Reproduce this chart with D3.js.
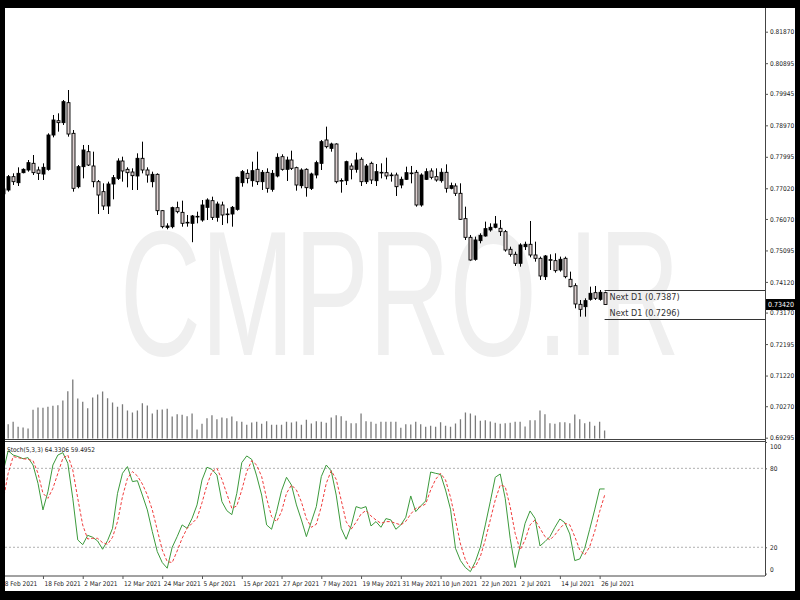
<!DOCTYPE html>
<html><head><meta charset="utf-8">
<script src="https://cdn.jsdelivr.net/npm/d3@7/dist/d3.min.js"></script>
<style>html,body{margin:0;padding:0;background:#000;}svg{display:block;}
.lbl{font-family:"Liberation Sans Narrow","DejaVu Sans Condensed","Liberation Sans",sans-serif;}
</style></head>
<body><svg id="c" width="800" height="600"></svg>
<script>
// ---------- data ----------
const dateLabels = ["8 Feb 2021","18 Feb 2021","2 Mar 2021","12 Mar 2021","24 Mar 2021","5 Apr 2021","15 Apr 2021","27 Apr 2021","7 May 2021","19 May 2021","31 May 2021","10 Jun 2021","22 Jun 2021","2 Jul 2021","14 Jul 2021","26 Jul 2021"];
const dateTickIdx = [0,8,16,24,32,40,48,56,64,72,80,88,96,104,112,120];
const priceTicks = [0.81870,0.80895,0.79945,0.78970,0.77995,0.77020,0.76070,0.75095,0.74120,0.73170,0.72195,0.71220,0.70270,0.69295];
const stochTicks = [100,80,20,0];
const openP = [0.7685,0.76967,0.77380,0.77194,0.77504,0.77587,0.77793,0.77587,0.77462,0.77607,0.78670,0.79114,0.79053,0.79672,0.78722,0.77070,0.77690,0.78154,0.77710,0.77225,0.76916,0.76472,0.77153,0.77328,0.77865,0.77607,0.77524,0.77401,0.77948,0.77587,0.77225,0.77452,0.76327,0.75811,0.75831,0.76420,0.76275,0.75966,0.75935,0.76151,0.76038,0.76430,0.76637,0.76120,0.76502,0.76224,0.76224,0.76368,0.77194,0.77483,0.77256,0.77607,0.77225,0.77514,0.76988,0.77401,0.77999,0.77607,0.77896,0.77659,0.77101,0.77607,0.77019,0.77432,0.77793,0.78516,0.78257,0.78392,0.77260,0.77256,0.77710,0.77607,0.77917,0.77225,0.77793,0.77256,0.77514,0.77504,0.77432,0.77432,0.77122,0.77298,0.77494,0.77515,0.76503,0.77298,0.77556,0.77380,0.77256,0.77515,0.77019,0.77091,0.76864,0.76080,0.75501,0.74820,0.75398,0.75543,0.75729,0.75811,0.75780,0.75677,0.75130,0.74975,0.74696,0.75212,0.75285,0.74954,0.74851,0.74283,0.74810,0.74779,0.74490,0.74851,0.74201,0.74004,0.73426,0.73354,0.73581,0.73788,0.73581,0.73788];
const highP = [0.7712,0.77432,0.77483,0.77669,0.77638,0.77896,0.78051,0.77690,0.77793,0.78722,0.79290,0.79342,0.79755,0.80064,0.78825,0.77741,0.78361,0.78361,0.78154,0.77277,0.77174,0.77225,0.77432,0.77948,0.77999,0.77669,0.77638,0.78103,0.78464,0.77669,0.77535,0.77483,0.76348,0.75935,0.76451,0.76606,0.76637,0.76193,0.76193,0.76296,0.76657,0.76709,0.76760,0.76606,0.76606,0.76399,0.76471,0.77380,0.77586,0.77607,0.77844,0.78154,0.77586,0.77638,0.77586,0.78103,0.78072,0.77999,0.78185,0.77690,0.77638,0.77638,0.77504,0.77875,0.78516,0.78929,0.78433,0.78412,0.77328,0.77875,0.77793,0.78123,0.77979,0.77772,0.77844,0.77772,0.77793,0.77968,0.77504,0.77504,0.77380,0.77690,0.77711,0.77587,0.77484,0.77638,0.77638,0.77638,0.77638,0.77762,0.77195,0.77174,0.77174,0.76451,0.75574,0.75522,0.75625,0.75987,0.75935,0.76162,0.76038,0.75729,0.75212,0.75057,0.75316,0.75367,0.76007,0.75367,0.74903,0.74954,0.74975,0.75006,0.74903,0.74903,0.74438,0.74077,0.73560,0.73612,0.73973,0.73994,0.73870,0.73819];
const lowP = [0.7676,0.76916,0.77122,0.77091,0.77483,0.77535,0.77432,0.77277,0.77277,0.77566,0.78598,0.78774,0.78980,0.78619,0.76916,0.77019,0.77328,0.77710,0.77050,0.76224,0.76348,0.76224,0.76678,0.77277,0.77225,0.77050,0.76967,0.76967,0.77483,0.77194,0.77050,0.76193,0.75780,0.75749,0.75780,0.76244,0.75831,0.75831,0.75350,0.75935,0.75986,0.76038,0.76038,0.75986,0.75883,0.75935,0.75831,0.76327,0.77070,0.77173,0.77070,0.77122,0.76967,0.76884,0.76915,0.77359,0.77566,0.77246,0.77586,0.76946,0.77019,0.76760,0.76967,0.77328,0.77586,0.78257,0.78154,0.77173,0.76884,0.77122,0.77297,0.77504,0.77091,0.77153,0.77153,0.77091,0.77328,0.77297,0.77225,0.76781,0.77019,0.77277,0.77174,0.76451,0.76451,0.77277,0.77298,0.77225,0.77195,0.76885,0.76988,0.76782,0.76038,0.75419,0.74779,0.74779,0.75316,0.75522,0.75677,0.75780,0.75543,0.75057,0.74903,0.74614,0.74593,0.75109,0.74882,0.74748,0.74180,0.74180,0.74490,0.74407,0.74438,0.74232,0.73953,0.73302,0.73044,0.73044,0.73540,0.73560,0.73540,0.73405];
const closeP = [0.7700,0.77380,0.77225,0.77483,0.77607,0.77814,0.77504,0.77483,0.77669,0.78670,0.79135,0.79053,0.79703,0.78701,0.77019,0.77690,0.78206,0.77741,0.77225,0.76812,0.76472,0.77153,0.77349,0.77865,0.77556,0.77504,0.77411,0.77948,0.77587,0.77432,0.77452,0.76327,0.75831,0.75852,0.76420,0.76296,0.75935,0.75945,0.76162,0.76131,0.76502,0.76657,0.76120,0.76533,0.76193,0.76203,0.76430,0.77359,0.77535,0.77328,0.77566,0.77225,0.77514,0.77019,0.77483,0.77979,0.77607,0.77896,0.77638,0.77122,0.77586,0.77039,0.77463,0.77814,0.78464,0.78309,0.78392,0.77225,0.77246,0.77844,0.77607,0.77896,0.77225,0.77710,0.77277,0.77535,0.77493,0.77401,0.77411,0.77070,0.77298,0.77504,0.77473,0.76503,0.77432,0.77535,0.77360,0.77277,0.77515,0.77019,0.77102,0.76864,0.76059,0.75501,0.74799,0.75419,0.75563,0.75770,0.75811,0.75914,0.75677,0.75109,0.74975,0.74696,0.75264,0.75285,0.74954,0.74851,0.74304,0.74923,0.74789,0.74469,0.74820,0.74283,0.73973,0.73437,0.73271,0.73540,0.73767,0.73612,0.73798,0.73420];
const volume = [45,43,50,35,33,30,86,93,92,95,98,100,114,142,177,120,110,91,123,132,141,121,108,95,103,84,78,84,106,99,75,86,87,89,66,73,71,67,75,27,44,61,70,58,63,61,66,52,50,41,48,50,44,52,41,41,41,50,48,51,41,56,45,52,50,47,63,70,67,53,46,46,75,52,50,44,50,50,50,50,32,43,42,50,43,35,38,35,49,38,35,45,58,78,75,69,53,55,51,47,44,46,47,50,50,36,55,55,84,73,46,44,49,49,46,72,58,46,50,38,50,24];
const stochMain = [77.5,93.4,90.1,88.9,87.3,88.1,82.5,68.6,48.4,62.3,82.5,90.1,91.9,83.8,57.2,25.6,22.0,29.1,27.6,24.8,18.5,25.1,34.4,61.0,76.2,81.3,69.9,70.6,59.7,48.4,31.9,16.7,8.4,4.1,20.0,28.1,37.0,34.4,42.0,52.2,71.1,80.8,79.2,74.9,54.7,47.8,44.8,61.0,84.3,89.4,86.8,74.2,59.7,37.0,33.7,47.1,63.0,73.2,67.3,52.2,40.8,28.1,39.5,50.9,73.7,82.5,78.0,59.7,34.4,26.1,36.2,50.9,49.6,50.9,36.2,39.5,35.2,41.8,40.8,33.7,37.0,42.8,59.0,47.1,51.4,55.2,77.2,76.2,75.4,63.5,48.9,19.2,9.9,4.6,1.5,9.1,20.0,37.0,54.7,73.2,75.7,57.2,26.8,4.6,21.0,38.2,47.6,42.0,21.0,24.3,28.1,35.2,41.5,38.7,30.1,9.9,11.1,19.2,33.7,48.4,64.3,64.3306];
const stochSignal = [55.9,76.2,88.9,88.1,87.3,86.8,85.8,76.2,61.0,57.2,64.8,76.2,87.6,90.1,78.7,57.2,36.9,26.3,26.8,26.8,23.5,22.3,27.6,39.5,58.5,72.4,77.5,74.2,68.1,59.7,48.4,33.2,18.0,9.1,8.4,17.2,26.8,34.4,38.2,42.0,53.9,67.3,77.5,80.0,71.6,60.5,49.6,51.4,63.5,77.5,85.8,82.5,73.7,57.2,43.3,39.5,47.1,61.0,67.3,63.5,54.5,41.8,35.2,37.5,50.9,68.6,78.2,71.6,55.9,39.5,33.7,39.0,45.3,47.9,43.8,40.8,38.2,39.5,39.5,38.2,37.0,39.7,45.3,49.6,50.9,52.9,63.5,71.6,76.2,71.1,58.0,40.8,22.5,10.4,4.1,5.3,12.9,25.6,40.8,55.9,67.3,66.1,50.9,30.6,18.0,25.6,37.0,40.8,34.4,28.1,25.6,29.4,34.4,38.2,37.0,28.1,18.0,14.2,20.5,31.9,47.1,59.4952];
const nextD1 = [0.7387, 0.7296];
const currentPrice = 0.73420;
const title = "Stoch(5,3,3) 64.3306 59.4952";
const watermark = "CMPRO.IR";

// ---------- layout ----------
const svg = d3.select("#c");
const L = 5, R = 765, TOP = 8, MAINB = 439.5, SUBT = 441.5, SUBB = 576;
svg.append("rect").attr("x",0).attr("y",0).attr("width",800).attr("height",600).attr("fill","#000");
svg.append("rect").attr("x",L).attr("y",TOP).attr("width",790).attr("height",583).attr("fill","#fff");

const n = openP.length;
const x = d3.scaleLinear().domain([0, 121]).range([3.2, 604.6]);
const y = d3.scaleLinear().domain([0.69295, 0.81870]).range([437.7, 31.7]);
const yv = d3.scaleLinear().domain([0, 180]).range([438.5, 378.5]);
const ys = d3.scaleLinear().domain([0, 100]).range([573.6, 442]);

const defs = svg.append("defs");
defs.append("clipPath").attr("id","cm").append("rect").attr("x",L).attr("y",TOP).attr("width",R-L).attr("height",MAINB-TOP);
defs.append("clipPath").attr("id","cs").append("rect").attr("x",L).attr("y",SUBT).attr("width",R-L).attr("height",SUBB-SUBT);

// watermark
svg.append("text").attr("x",120).attr("y",355).attr("class","lbl")
  .style("font-family","'Liberation Sans',Arial,sans-serif")
  .attr("font-size",178).attr("fill","#efefef")
  .attr("textLength",560).attr("lengthAdjust","spacingAndGlyphs").text(watermark);

const main = svg.append("g").attr("clip-path","url(#cm)");
// volumes
main.selectAll("line.vol").data(volume).join("line").attr("class","vol")
  .attr("x1",(d,i)=>x(i)).attr("x2",(d,i)=>x(i))
  .attr("y1",yv(0)).attr("y2",d=>yv(d))
  .attr("stroke","#7a7a7a").attr("stroke-width",1.3);

// candles
const idx = d3.range(n);
main.selectAll("line.wick").data(idx).join("line").attr("class","wick")
  .attr("x1",i=>Math.round(x(i))+0.5).attr("x2",i=>Math.round(x(i))+0.5)
  .attr("y1",i=>y(highP[i])).attr("y2",i=>y(lowP[i]))
  .attr("stroke","#000").attr("stroke-width",1);
main.selectAll("rect.body").data(idx).join("rect").attr("class","body")
  .attr("x",i=>Math.round(x(i))-1)
  .attr("width",3)
  .attr("y",i=>y(Math.max(openP[i],closeP[i])))
  .attr("height",i=>Math.max(0.6, Math.abs(y(openP[i])-y(closeP[i]))))
  .attr("fill",i=>closeP[i]>openP[i] ? "#000" : "#ddd0d0")
  .attr("stroke","#000").attr("stroke-width",0.9);

// Next D1 lines
nextD1.forEach((v,k)=>{
  main.append("line").attr("x1",x(121)).attr("x2",R).attr("y1",Math.round(y(v))+0.5).attr("y2",Math.round(y(v))+0.5)
    .attr("stroke","#333").attr("stroke-width",1);
  svg.append("text").attr("class","lbl").attr("x",x(121)+5)
    .attr("y", k===0 ? y(v)+10 : y(v)-3)
    .attr("font-size",9).attr("fill","#333").text("Next D1 (" + v.toFixed(4) + ")");
});

// frames
const frame = svg.append("g").attr("stroke","#444").attr("fill","none");
frame.append("line").attr("x1",R+0.5).attr("x2",R+0.5).attr("y1",TOP).attr("y2",SUBB);
frame.append("line").attr("x1",L).attr("x2",R).attr("y1",MAINB).attr("y2",MAINB);
frame.append("line").attr("x1",L).attr("x2",R).attr("y1",SUBT).attr("y2",SUBT);
frame.append("line").attr("x1",L).attr("x2",R).attr("y1",SUBB).attr("y2",SUBB);

// price axis
const pa = svg.append("g").attr("transform",`translate(${R},0)`)
  .call(d3.axisRight(y).tickValues(priceTicks).tickFormat(d3.format(".5f")).tickSize(3).tickPadding(2));
pa.select(".domain").remove();
pa.selectAll("line").attr("stroke","#555");
pa.selectAll("text").attr("class","lbl").attr("font-size",6.5).attr("fill","#222");

// current price tag
svg.append("rect").attr("x",R+1).attr("y",y(currentPrice)-5.5).attr("width",29).attr("height",11).attr("fill","#000");
svg.append("text").attr("class","lbl").attr("x",R+3).attr("y",y(currentPrice)+2.5)
  .attr("font-size",7).attr("fill","#fff").text(currentPrice.toFixed(5));

// stochastic
const sub = svg.append("g").attr("clip-path","url(#cs)");
[80,20].forEach(v=>{
  sub.append("line").attr("x1",L).attr("x2",R).attr("y1",ys(v)).attr("y2",ys(v))
    .attr("stroke","#b0b0b0").attr("stroke-dasharray","2,2").attr("stroke-width",1);
});
const ln = d3.line().x((d,i)=>x(i)).y(d=>ys(d));
sub.append("path").attr("d",ln(stochMain)).attr("fill","none").attr("stroke","#3c9a3c").attr("stroke-width",1);
sub.append("path").attr("d",ln(stochSignal)).attr("fill","none").attr("stroke","#f03c3c").attr("stroke-width",1).attr("stroke-dasharray","3,2");
svg.append("text").attr("class","lbl").attr("x",7).attr("y",452).attr("font-size",6.5).attr("fill","#222").text(title);

const sa = svg.append("g").attr("transform",`translate(${R},0)`)
  .call(d3.axisRight(ys).tickValues(stochTicks).tickSize(2).tickPadding(3));
sa.select(".domain").remove();
sa.selectAll("line").attr("stroke","#555");
sa.selectAll("text").attr("class","lbl").attr("font-size",6.5).attr("fill","#222")
  .attr("dy",d=> d===100 ? "1.05em" : d===0 ? "-0.3em" : "0.32em");

// date axis
const xa = svg.append("g").attr("transform",`translate(0,${SUBB})`)
  .call(d3.axisBottom(x).tickValues(dateTickIdx).tickFormat((d,i)=>dateLabels[i]).tickSize(3).tickPadding(2));
xa.select(".domain").remove();
xa.selectAll("line").attr("stroke","#555");
xa.selectAll("text").attr("class","lbl").attr("font-size",6.5).attr("fill","#222")
  .attr("text-anchor","start").attr("x",1);

// left border overlay (hides clipped first bar)
svg.append("rect").attr("x",0).attr("y",0).attr("width",L).attr("height",600).attr("fill","#000");
</script></body></html>
